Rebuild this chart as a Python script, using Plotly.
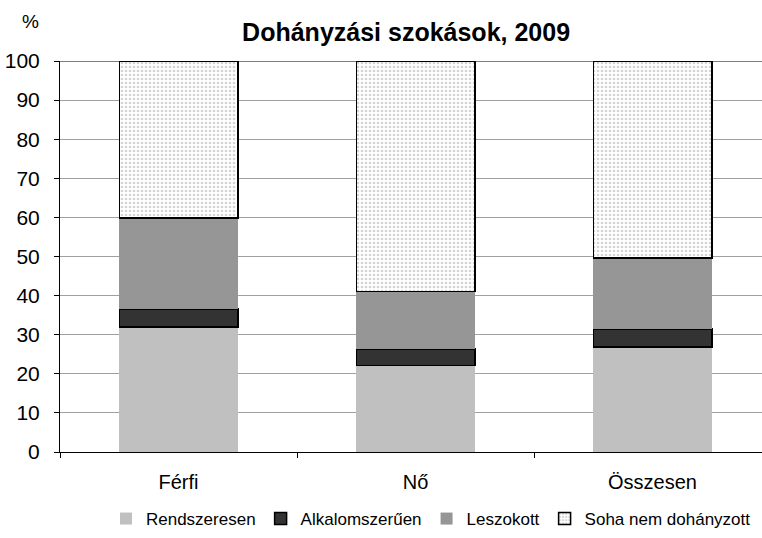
import plotly.graph_objects as go

categories = ["Férfi", "Nő", "Összesen"]
rendszeresen = [32.0, 22.1, 26.9]
alkalomszeruen = [4.6, 4.3, 4.6]
leszokott = [23.2, 14.6, 18.1]
soha = [40.2, 59.0, 50.4]
series_names = ["Rendszeresen", "Alkalomszerűen", "Leszokott", "Soha nem dohányzott"]
y_ticks = [0, 10, 20, 30, 40, 50, 60, 70, 80, 90, 100]

FONT = "Liberation Sans, Arial, sans-serif"

fig = go.Figure()
fig.add_trace(go.Bar(x=categories, y=rendszeresen, name=series_names[0],
                     marker=dict(color="#C0C0C0", line=dict(width=0))))
fig.add_trace(go.Bar(x=categories, y=alkalomszeruen, name=series_names[1],
                     marker=dict(color="#333333", line=dict(color="#000000", width=1.5))))
fig.add_trace(go.Bar(x=categories, y=leszokott, name=series_names[2],
                     marker=dict(color="#969696", line=dict(width=0))))
fig.add_trace(go.Bar(x=categories, y=soha, name=series_names[3],
                     marker=dict(color="#FFFFFF", line=dict(color="#000000", width=1.5),
                                 pattern=dict(shape=".", fgcolor="#A8A8A8", bgcolor="#FFFFFF",
                                              size=4, solidity=0.35))))

fig.update_layout(
    barmode="stack",
    bargap=0.5,
    width=762, height=538,
    margin=dict(l=60, r=0, t=61, b=86),
    plot_bgcolor="white", paper_bgcolor="white",
    font=dict(family=FONT, size=18, color="#000000"),
    title=dict(text="<b>Dohányzási szokások, 2009</b>", x=0.493, xref="paper",
               xanchor="center", y=1 - 32 / 538, yanchor="middle",
               font=dict(size=25, family=FONT)),
    showlegend=True,
    legend=dict(orientation="h", x=0.0655, xanchor="left", xref="paper",
                y=19 / 538, yref="container", yanchor="middle",
                font=dict(size=17, family=FONT), traceorder="normal",
                itemwidth=30, tracegroupgap=0, bgcolor="rgba(0,0,0,0)"),
    xaxis=dict(range=[-0.5, 2.462], showgrid=False, showline=True, linecolor="#000000",
               linewidth=1, ticks="outside", tickson="boundaries", ticklen=5,
               tickcolor="#000000", tickfont=dict(size=20), fixedrange=True,
               automargin=False, ticklabelstandoff=12),
    yaxis=dict(range=[0, 100], tickvals=y_ticks, showgrid=True, gridcolor="#A0A0A0",
               gridwidth=1, showline=True, linecolor="#000000", linewidth=1,
               ticks="outside", ticklen=5, tickcolor="#000000", tickfont=dict(size=21),
               zeroline=False, automargin=False, ticklabelstandoff=10),
    annotations=[dict(text="%", x=-30 / 702, y=(452 - 22) / 391, xref="paper", yref="paper",
                      showarrow=False, xanchor="center", yanchor="middle",
                      font=dict(size=19, family=FONT))],
    shapes=[dict(type="line", xref="paper", yref="y", x0=0, x1=1, y0=100, y1=100,
                 line=dict(color="#000000", width=1), layer="below")],
)

fig.write_html("out.html", config={"displayModeBar": False},
               post_script="document.body.style.margin='0px';")
